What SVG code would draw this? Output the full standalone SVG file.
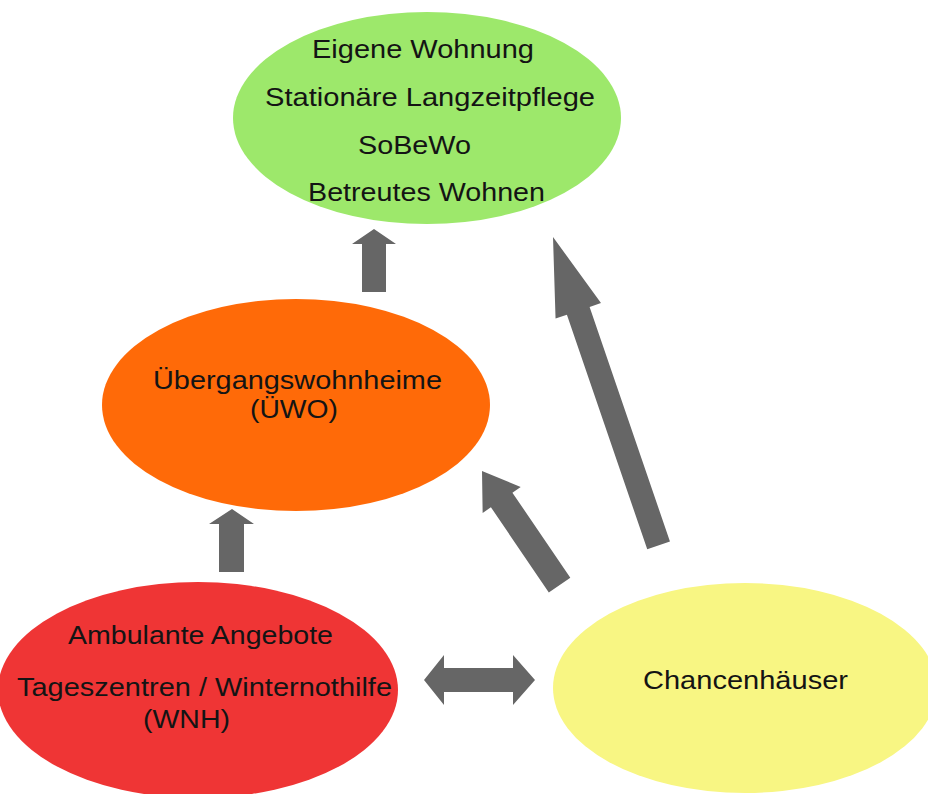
<svg xmlns="http://www.w3.org/2000/svg" width="928" height="794" viewBox="0 0 928 794">
  <style>
    .lbl { font-family: "Liberation Sans", Arial, sans-serif; font-size: 26px; fill: #141414; }
    .arrow { fill: #666666; }
  </style>
  <rect width="928" height="794" fill="#ffffff"/>

  <!-- Destination: permanent housing -->
  <g id="node-wohnen">
    <ellipse cx="427" cy="118" rx="194" ry="106" fill="#9de86b"/>
    <text class="lbl" x="312" y="58" textLength="222" lengthAdjust="spacingAndGlyphs">Eigene Wohnung</text>
    <text class="lbl" x="265" y="106" textLength="330" lengthAdjust="spacingAndGlyphs">Stationäre Langzeitpflege</text>
    <text class="lbl" x="358" y="154" textLength="113" lengthAdjust="spacingAndGlyphs">SoBeWo</text>
    <text class="lbl" x="308" y="201" textLength="237" lengthAdjust="spacingAndGlyphs">Betreutes Wohnen</text>
  </g>

  <!-- Transitional homes -->
  <g id="node-uewo">
    <ellipse cx="296" cy="405" rx="194" ry="106" fill="#ff6a08"/>
    <text class="lbl" x="153" y="389" textLength="289" lengthAdjust="spacingAndGlyphs">Übergangswohnheime</text>
    <text class="lbl" x="250" y="418" textLength="88" lengthAdjust="spacingAndGlyphs">(ÜWO)</text>
  </g>

  <!-- Outpatient services -->
  <g id="node-ambulant">
    <ellipse cx="198" cy="690" rx="200" ry="108" fill="#ef3535"/>
    <text class="lbl" x="68" y="644" textLength="265" lengthAdjust="spacingAndGlyphs">Ambulante Angebote</text>
    <text class="lbl" x="17" y="696" textLength="375" lengthAdjust="spacingAndGlyphs">Tageszentren / Winternothilfe</text>
    <text class="lbl" x="143" y="728" textLength="87" lengthAdjust="spacingAndGlyphs">(WNH)</text>
  </g>

  <!-- Chancenhäuser -->
  <g id="node-chancen">
    <ellipse cx="745" cy="688" rx="192" ry="105" fill="#f8f683"/>
    <text class="lbl" x="643" y="689" textLength="205" lengthAdjust="spacingAndGlyphs">Chancenhäuser</text>
  </g>

  <!-- Block arrows between the stages -->
  <g id="connectors">
    <!-- ÜWO -> Wohnen -->
    <polygon class="arrow" points="374,229 396,244 386,244 386,292 362,292 362,244 352,244"/>
    <!-- Ambulant -> ÜWO -->
    <polygon class="arrow" points="232,509 254,524 244,524 244,572 219,572 219,524 209,524"/>
    <!-- Chancenhäuser -> ÜWO -->
    <polygon class="arrow" transform="translate(482,471) rotate(-34.2)" points="0,0 23,35 13,35 13,138 -13,138 -13,35 -23,35"/>
    <!-- Chancenhäuser -> Wohnen -->
    <polygon class="arrow" transform="translate(553,237) rotate(-18.9)" points="0,0 24,78 12,78 12,326 -12,326 -12,78 -24,78"/>
    <!-- Ambulant <-> Chancenhäuser -->
    <polygon class="arrow" points="424,680 444,655 444,668 513,668 513,655 535,680 513,705 513,692 444,692 444,705"/>
  </g>
</svg>
